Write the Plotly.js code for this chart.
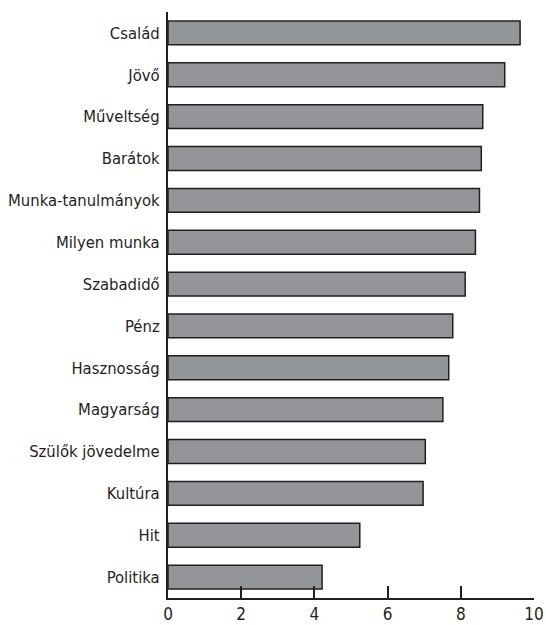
<!DOCTYPE html>
<html>
<head>
<meta charset="utf-8">
<script src="https://cdn.plot.ly/plotly-3.0.1.min.js"></script>
<style>
html,body{margin:0;padding:0;background:#fff;}
#chart{width:546px;height:625px;}
</style>
</head>
<body>
<div id="chart"></div>
<script>
const categories = ["Család","Jövő","Műveltség","Barátok","Munka-tanulmányok","Milyen munka","Szabadidő","Pénz","Hasznosság","Magyarság","Szülők jövedelme","Kultúra","Hit","Politika"];
const values = [9.62, 9.2, 8.6, 8.56, 8.51, 8.4, 8.12, 7.78, 7.67, 7.51, 7.03, 6.97, 5.24, 4.21];
const xTicks = [0, 2, 4, 6, 8, 10];

const fontFam = '"DejaVu Sans Condensed", "Liberation Sans Narrow", sans-serif';

const trace = {
  type: 'bar',
  orientation: 'h',
  x: values,
  y: categories,
  width: 0.57,
  marker: {color: '#939598', line: {color: '#231f20', width: 1.5}},
  hoverinfo: 'none'
};

const layout = {
  width: 546, height: 625,
  margin: {l: 168, r: 12, t: 12, b: 27, pad: 0},
  paper_bgcolor: '#ffffff', plot_bgcolor: '#ffffff',
  showlegend: false,
  font: {family: fontFam, size: 16.5, color: '#231f20'},
  xaxis: {
    range: [0, 10],
    tickvals: xTicks,
    ticktext: xTicks.map(String),
    ticks: 'inside', ticklen: 12, tickwidth: 2, tickcolor: '#231f20',
    showline: true, linecolor: '#231f20', linewidth: 2,
    showgrid: false, zeroline: false,
    tickfont: {family: fontFam, size: 17, color: '#231f20'},
    fixedrange: true
  },
  yaxis: {
    autorange: 'reversed',
    showline: true, linecolor: '#231f20', linewidth: 2,
    ticks: '', showgrid: false, zeroline: false,
    tickfont: {family: fontFam, size: 16.5, color: '#231f20'},
    ticklabelstandoff: 3,
    fixedrange: true
  }
};

Plotly.newPlot('chart', [trace], layout, {displayModeBar: false, staticPlot: true});
</script>
</body>
</html>
